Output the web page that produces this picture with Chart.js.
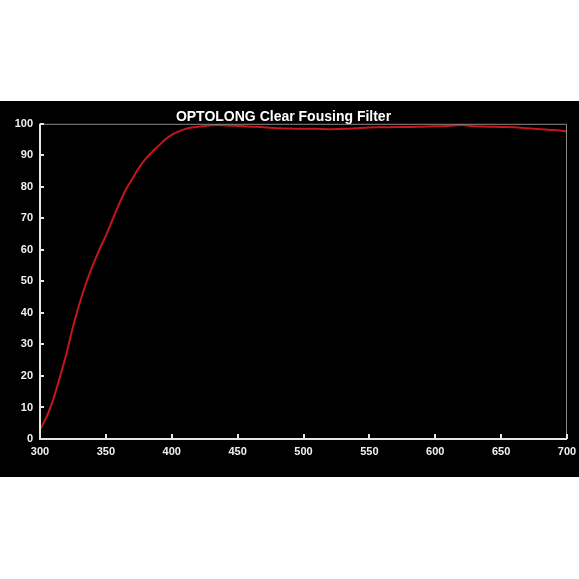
<!DOCTYPE html>
<html>
<head>
<meta charset="utf-8">
<script src="https://cdn.jsdelivr.net/npm/chart.js@4.4.0/dist/chart.umd.min.js"></script>
<style>
  html, body { margin: 0; padding: 0; background: #fff; }
  #wrap { position: absolute; left: 0; top: 101px; width: 579px; height: 376px; background: #000; }
</style>
</head>
<body>
<div id="wrap"><canvas id="chartcanvas" width="579" height="376"></canvas></div>
<script>
'use strict';
// wavelength (nm) and transmission (%)
const wavelength = [300, 305, 310, 315, 320, 325, 330, 335, 340, 345, 350, 355, 360, 365, 370, 375, 380, 385, 390, 395,
    400, 405, 410, 415, 420, 425, 430, 435, 440, 445, 450, 460, 470, 480, 490, 500, 510, 520, 530, 540,
    550, 560, 570, 580, 590, 600, 610, 620, 630, 640, 650, 660, 670, 680, 690, 700];
const transmission = [3, 7, 12.5, 19.5, 27, 35.5, 43, 49.5, 55, 60, 64.5, 69.5, 74.5, 79, 82.5, 86, 88.8, 91, 93, 95,
    96.5, 97.5, 98.3, 98.8, 99.1, 99.3, 99.5, 99.6, 99.5, 99.4, 99.3, 99.1, 98.9, 98.6, 98.5, 98.4, 98.4, 98.3, 98.4, 98.6,
    98.8, 98.9, 99.0, 99.0, 99.1, 99.2, 99.3, 99.6, 99.2, 99.1, 99.0, 98.9, 98.6, 98.3, 98.0, 97.6];
const titleText = 'OPTOLONG Clear Fousing Filter';

const ctx2d = document.getElementById('chartcanvas').getContext('2d');

// frame + inward tick marks
const frameTicks = {
    id: 'frameTicks',
    afterDraw(chart) {
        const c = chart.ctx;
        const a = chart.chartArea;
        const xs = chart.scales.x;
        const ys = chart.scales.y;
        c.save();
        c.strokeStyle = '#8a8a8a';
        c.lineWidth = 1;
        c.beginPath();
        c.moveTo(a.left, a.top + 0.5);
        c.lineTo(a.right - 0.5, a.top + 0.5);
        c.lineTo(a.right - 0.5, a.bottom);
        c.stroke();
        c.strokeStyle = '#e6e6e6';
        c.lineWidth = 2;
        c.beginPath();
        c.moveTo(a.left, a.top);
        c.lineTo(a.left, a.bottom);
        c.lineTo(a.right, a.bottom);
        c.stroke();
        c.beginPath();
        xs.ticks.forEach(t => {
            const px = Math.round(xs.getPixelForValue(t.value));
            c.moveTo(px, a.bottom);
            c.lineTo(px, a.bottom - 5);
        });
        ys.ticks.forEach(t => {
            const py = Math.round(ys.getPixelForValue(t.value));
            c.moveTo(a.left, py);
            c.lineTo(a.left + 4, py);
        });
        c.stroke();
        c.restore();
    }
};

const chart = new Chart(ctx2d, {
    type: 'line',
    data: {
        datasets: [{
            label: 'Transmission',
            data: wavelength.map((w, i) => ({ x: w, y: transmission[i] })),
            borderColor: '#c4161c',
            borderWidth: 2,
            pointRadius: 0,
            tension: 0.3,
            fill: false,
        }],
    },
    options: {
        responsive: false,
        animation: false,
        layout: { padding: { top: 0, right: 12, left: 0, bottom: 0 } },
        plugins: {
            legend: { display: false },
            tooltip: { enabled: false },
            title: {
                display: true,
                text: titleText,
                color: '#ffffff',
                font: { family: 'Liberation Sans, Arial, sans-serif', size: 14, weight: 'bold' },
                padding: { top: 8, bottom: -2 },
            },
        },
        scales: {
            x: {
                type: 'linear',
                min: 300,
                max: 700,
                ticks: {
                    stepSize: 50,
                    color: '#f0f0f0',
                    padding: 6,
                    maxRotation: 0,
                    font: { family: 'Liberation Sans, Arial, sans-serif', size: 11, weight: 'bold' },
                },
                grid: { display: false, drawTicks: false },
                border: { display: false },
                afterFit: (s) => { s.height = 38; s.paddingRight = 0; s.paddingLeft = 0; },
            },
            y: {
                min: 0,
                max: 100,
                ticks: {
                    stepSize: 10,
                    color: '#f0f0f0',
                    padding: 7,
                    font: { family: 'Liberation Sans, Arial, sans-serif', size: 11, weight: 'bold' },
                },
                grid: { display: false, drawTicks: false },
                border: { display: false },
                afterFit: (s) => { s.width = 40; },
            },
        },
    },
    plugins: [frameTicks],
});
</script>
</body>
</html>
